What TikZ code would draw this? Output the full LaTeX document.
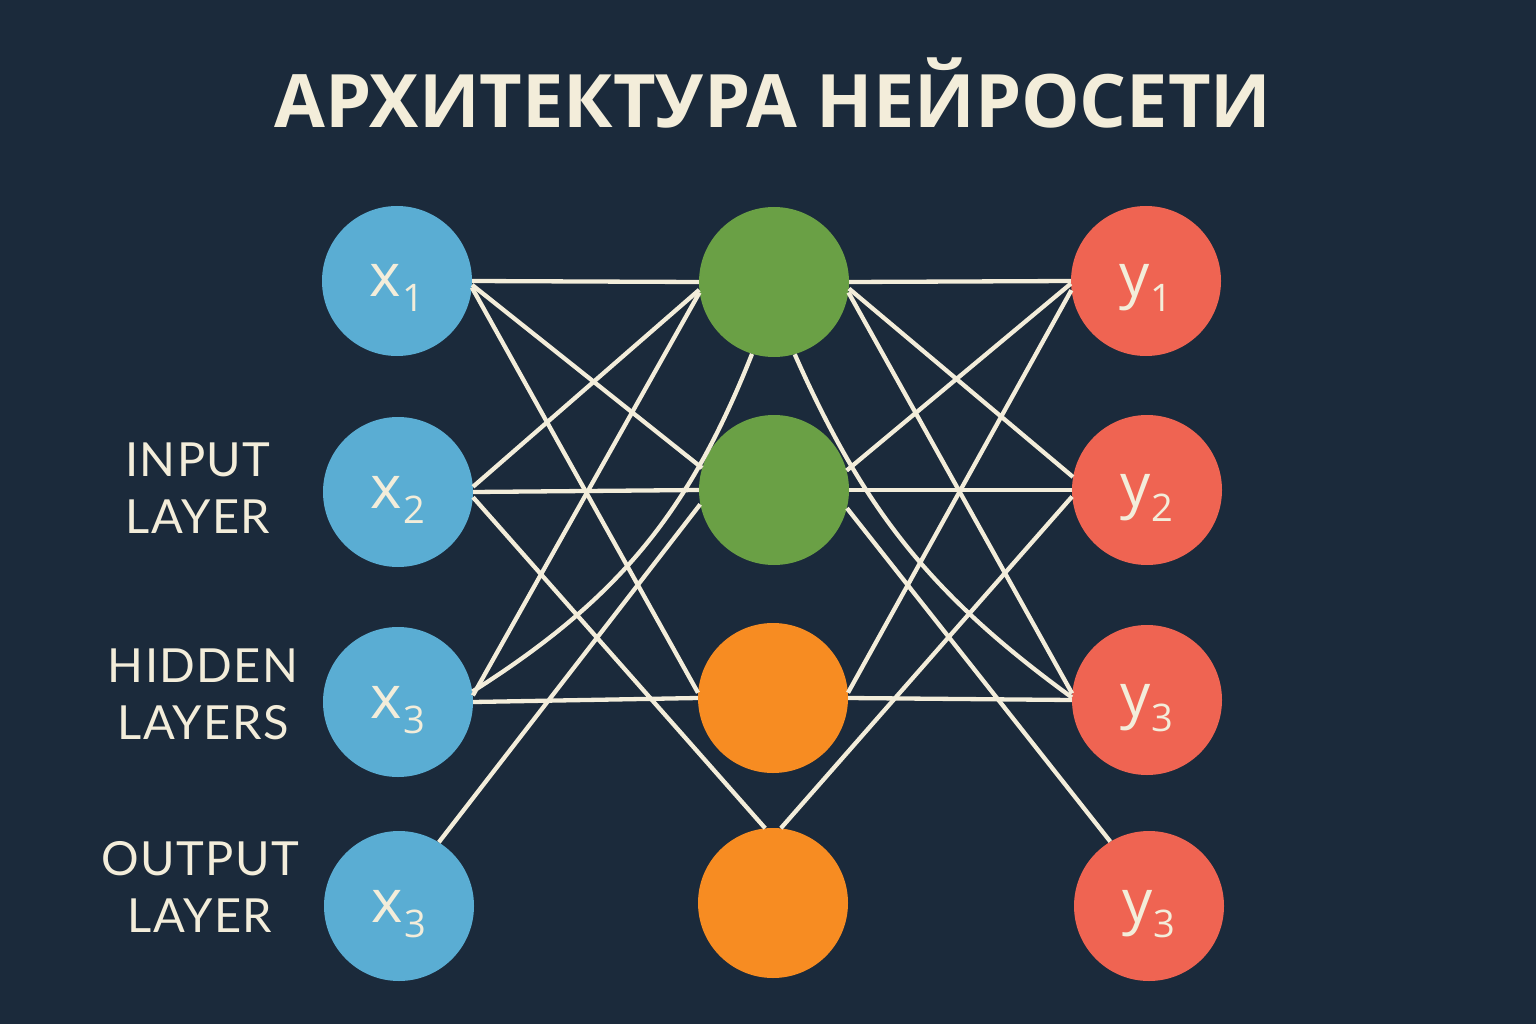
\documentclass[tikz,border=0pt]{standalone}
\usepackage{graphicx}
\usepackage{fontspec}
\setmainfont{Open Sans}
\newfontfamily\labfont{Lato}[LetterSpace=3]
\definecolor{bgc}{HTML}{1B2A3B}
\definecolor{nblue}{HTML}{5AADD3}
\definecolor{ngreen}{HTML}{6AA045}
\definecolor{norange}{HTML}{F78C22}
\definecolor{nred}{HTML}{EF6452}
\definecolor{cream}{HTML}{F3EDDA}
\newcommand\neurlab[2]{#1\hspace{1pt}{\fontsize{38}{38}\selectfont\raisebox{-15pt}{#2}}}
\begin{document}
\begin{tikzpicture}[x=1pt,y=1pt,
  neuron/.style={circle, minimum size=150pt, inner sep=0pt, draw=none, text=cream,
    font=\fontsize{60}{60}\selectfont, text height=32pt, text depth=0pt},
  conn/.style={draw=cream, line width=4.3pt},
  layerlabel/.style={text=cream, align=center, inner sep=0pt, font=\labfont\fontsize{47}{57}\selectfont}]
\fill[bgc] (0,0) rectangle (1536,-1024);
\useasboundingbox (0,0) rectangle (1536,-1024);
% title
\node[anchor=base, text=cream, inner sep=0pt] (title) at (773,-128)
  {\resizebox{997pt}{!}{\bfseries АРХИТЕКТУРА НЕЙРОСЕТИ}};
% layer labels
\node[layerlabel] (lin) at (198,-488) {INPUT\\LAYER};
\node[layerlabel] (lhid) at (203,-694) {HIDDEN\\LAYERS};
\node[layerlabel] (lout) at (200,-887) {OUTPUT\\LAYER};
% neurons
\node[neuron, fill=nblue] (x1) at (397,-281) {\neurlab{x}{1}};
\node[neuron, fill=nblue] (x2) at (398,-492) {\neurlab{x}{2}};
\node[neuron, fill=nblue] (x3) at (398,-702) {\neurlab{x}{3}};
\node[neuron, fill=nblue] (x4) at (399,-906) {\neurlab{x}{3}};
\node[neuron, fill=ngreen] (G1) at (774,-282) {};
\node[neuron, fill=ngreen] (G2) at (774,-490) {};
\node[neuron, fill=norange] (O1) at (773,-698) {};
\node[neuron, fill=norange] (O2) at (773,-903) {};
\node[neuron, fill=nred] (y1) at (1146,-281) {\neurlab{y}{1}};
\node[neuron, fill=nred] (y2) at (1147,-490) {\neurlab{y}{2}};
\node[neuron, fill=nred] (y3) at (1147,-700) {\neurlab{y}{3}};
\node[neuron, fill=nred] (y4) at (1149,-906) {\neurlab{y}{3}};
% input -> hidden
\draw[conn] (x1.east) -- (G1.west);
\draw[conn] (x1.-3) -- (G2.163);
\draw[conn] (x1.-5) -- (O1.176);
\draw[conn] (x2.4) -- (G1.186);
\draw[conn] (x2.east) -- (G2.west);
\draw[conn] (x2.-4) -- (O2.96);
\draw[conn] (x3.5) -- (G1.188);
\draw[conn] (x3.8) to[bend right=18] (G1.253);
\draw[conn] (x3.east) -- (O1.west);
\draw[conn] (x4.58) -- (G2.191);
% hidden -> output
\draw[conn] (G1.east) -- (y1.west);
\draw[conn] (G1.-5) -- (y2.170);
\draw[conn] (G1.-8) -- (y3.175);
\draw[conn] (G1.-74) to[bend right=15] (y3.178);
\draw[conn] (G2.15) -- (y1.182);
\draw[conn] (G2.east) -- (y2.west);
\draw[conn] (G2.-14) -- (y4.121);
\draw[conn] (O1.4) -- (y1.187);
\draw[conn] (O1.east) -- (y3.west);
\draw[conn] (O2.84) -- (y2.185);
\end{tikzpicture}
\end{document}
